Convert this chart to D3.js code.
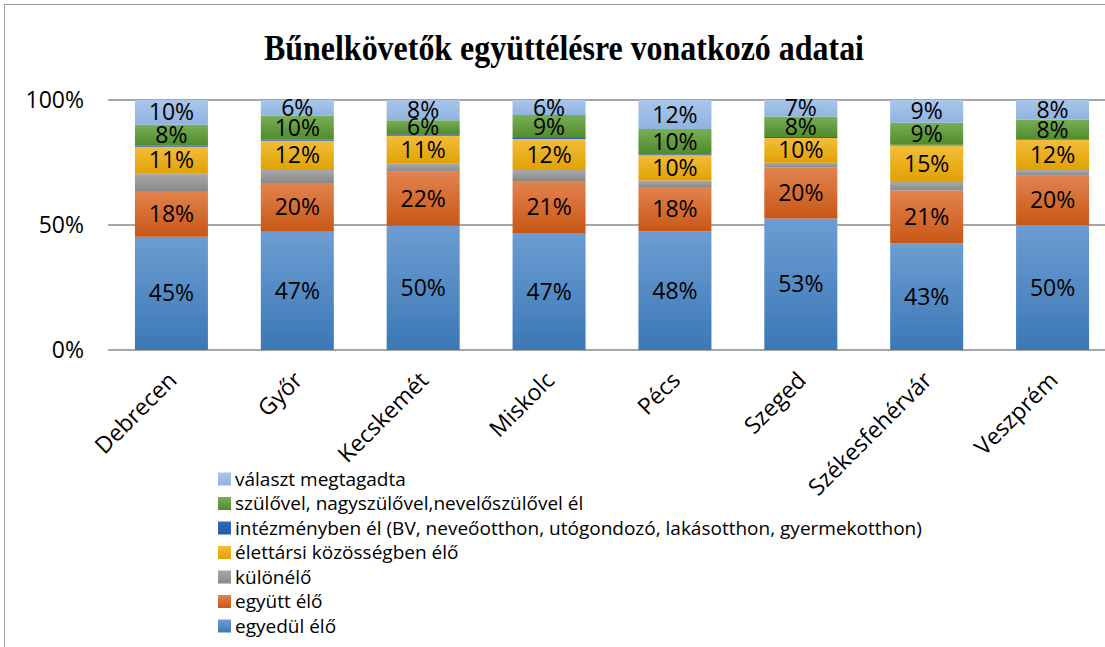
<!DOCTYPE html>
<html>
<head>
<meta charset="utf-8">
<script src="https://cdn.jsdelivr.net/npm/d3@7"></script>
<style>
  body { margin: 0; background: #fff; }
  svg { display: block; }
  text { font-family: "Open Sans", Lato, sans-serif; fill: #000; }
</style>
</head>
<body>
<svg width="1105" height="647"></svg>
<script>
// cities on the x axis
const cities = ["Debrecen", "Győr", "Kecskemét", "Miskolc", "Pécs", "Szeged", "Székesfehérvár", "Veszprém"];

// share of each living situation per city (percent)
const egyedulEl      = [45.3, 47.3, 49.7, 46.8, 47.5, 52.6, 42.6, 50.0];
const egyuttEl       = [18.3, 19.5, 21.6, 20.8, 17.7, 20.4, 21.2, 19.7];
const kulonelo       = [6.9, 5.2, 3.2, 4.4, 2.6, 1.9, 3.4, 2.3];
const elettarsi      = [10.8, 11.7, 11.2, 12.4, 10.1, 9.9, 14.6, 12.0];
const intezmenyben   = [0.4, 0.4, 0.6, 0.4, 0.4, 0.4, 0.3, 0.1];
const szulovel       = [8.4, 9.6, 5.6, 9.2, 10.1, 8.2, 8.8, 8.1];
const valasztMegtag  = [9.9, 6.3, 8.1, 6.0, 11.6, 6.6, 9.1, 7.8];

const yTicks = [0, 50, 100];

// series from bottom to top
const series = [
  { key: "egyedül élő", values: egyedulEl, top: "#6d9dd2", bottom: "#3b78b6", label: true },
  { key: "együtt élő", values: egyuttEl, top: "#e2834f", bottom: "#c85716", label: true },
  { key: "különélő", values: kulonelo, top: "#a9a9a9", bottom: "#898989", label: false },
  { key: "élettársi közösségben élő", values: elettarsi, top: "#f3bd3c", bottom: "#e0a100", label: true },
  { key: "intézményben él (BV, neveőotthon, utógondozó, lakásotthon, gyermekotthon)", values: intezmenyben, top: "#3566b8", bottom: "#2b59a6", label: false },
  { key: "szülővel, nagyszülővel,nevelőszülővel él", values: szulovel, top: "#79ae54", bottom: "#4f8b2d", label: true },
  { key: "választ megtagadta", values: valasztMegtag, top: "#a9c6ea", bottom: "#8fb3e0", label: true }
];

const table = cities.map((c, i) => {
  const row = { city: c };
  series.forEach(s => { row[s.key] = s.values[i]; });
  return row;
});

const svg = d3.select("svg");

// chart frame
svg.append("rect")
  .attr("x", 4.5).attr("y", 4.5)
  .attr("width", 1120).attr("height", 660)
  .attr("fill", "none").attr("stroke", "#a0a0a0").attr("stroke-width", 1);

const x = d3.scaleBand()
  .domain(cities)
  .range([108.5, 1115.5])
  .paddingInner(0.42)
  .paddingOuter(0.21);

const y = d3.scaleLinear().domain([0, 100]).range([350, 100]);

// gradients, one per series
const defs = svg.append("defs");
series.forEach((s, i) => {
  const g = defs.append("linearGradient")
    .attr("id", "grad" + i)
    .attr("x1", 0).attr("y1", 0).attr("x2", 0).attr("y2", 1);
  g.append("stop").attr("offset", "0%").attr("stop-color", s.top);
  g.append("stop").attr("offset", "100%").attr("stop-color", s.bottom);
});

// gridlines
svg.append("g")
  .selectAll("line")
  .data(yTicks)
  .join("line")
  .attr("x1", 108).attr("x2", 1105)
  .attr("y1", d => y(d)).attr("y2", d => y(d))
  .attr("stroke", "#a6a6a6").attr("stroke-width", 2);

// y axis labels
svg.append("g")
  .selectAll("text")
  .data(yTicks)
  .join("text")
  .attr("x", 84)
  .attr("y", d => y(d))
  .attr("dy", "0.35em")
  .attr("text-anchor", "end")
  .style("font-size", "23px")
  .text(d => d + "%");

const stack = d3.stack().keys(series.map(s => s.key));
const stacked = stack(table);

const layers = svg.append("g")
  .selectAll("g")
  .data(stacked)
  .join("g")
  .attr("fill", (d, i) => `url(#grad${i})`);

layers.selectAll("rect")
  .data(d => d)
  .join("rect")
  .attr("x", d => x(d.data.city))
  .attr("width", x.bandwidth())
  .attr("y", d => y(d[1]))
  .attr("height", d => y(d[0]) - y(d[1]));

// data labels
const labelGroup = svg.append("g");
stacked.forEach((layer, i) => {
  if (!series[i].label) return;
  labelGroup.selectAll(null)
    .data(layer)
    .join("text")
    .attr("x", d => x(d.data.city) + x.bandwidth() / 2)
    .attr("y", d => y((d[0] + d[1]) / 2))
    .attr("dy", "0.35em")
    .attr("text-anchor", "middle")
    .style("font-size", "23px")
    .text(d => Math.round(d[1] - d[0]) + "%");
});

// x axis labels, rotated
svg.append("g")
  .selectAll("text")
  .data(cities)
  .join("text")
  .attr("transform", d => `translate(${x(d) + x.bandwidth() / 2 + 1},${376}) rotate(-45)`)
  .attr("text-anchor", "end")
  .attr("dy", "0.35em")
  .style("font-size", "23px")
  .text(d => d);

// legend (top entry is the top series)
const legend = svg.append("g")
  .selectAll("g")
  .data(series.slice().reverse())
  .join("g")
  .attr("transform", (d, i) => `translate(218,${479 + i * 24.5})`);

legend.append("rect")
  .attr("y", -6.5)
  .attr("width", 13).attr("height", 13)
  .attr("fill", d => `url(#grad${series.indexOf(d)})`);

legend.append("text")
  .attr("x", 17)
  .attr("dy", "0.35em")
  .style("font-size", "19px")
  .text(d => d.key);

// title
svg.append("text")
  .attr("x", 564)
  .attr("y", 60)
  .attr("text-anchor", "middle")
  .attr("textLength", 600)
  .attr("lengthAdjust", "spacingAndGlyphs")
  .style("font-family", "'Liberation Serif', 'Times New Roman', serif")
  .style("font-weight", "bold")
  .style("font-size", "35px")
  .text("Bűnelkövetők együttélésre vonatkozó adatai");
</script>
</body>
</html>
